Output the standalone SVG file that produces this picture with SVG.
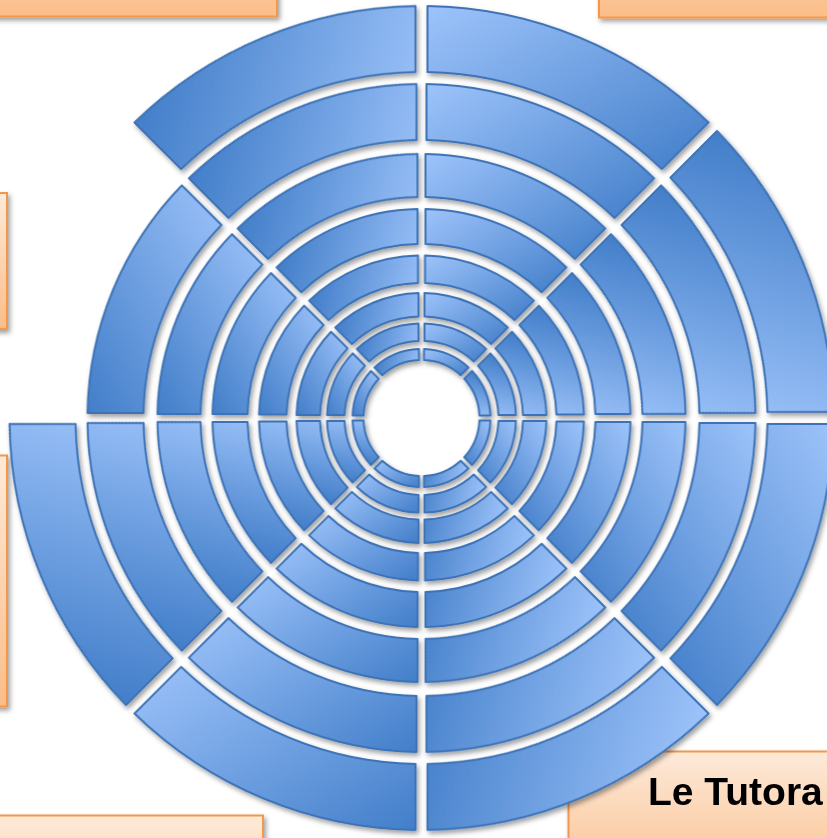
<svg xmlns="http://www.w3.org/2000/svg" width="827" height="838" viewBox="0 0 827 838">
<defs>
<style>
.seg{stroke:#3e73b6;stroke-width:2;stroke-linejoin:round}
.box{stroke:#f79646;stroke-width:2;fill:url(#boxG)}
.lbl{font-family:"Liberation Sans",Arial,sans-serif;font-weight:bold;font-size:39px;fill:#000}
</style>
<linearGradient id="gS" x1="1" y1="0" x2="0" y2="1"><stop offset="0" stop-color="#9dc3fa"/><stop offset="1" stop-color="#427ec9"/></linearGradient>
<linearGradient id="gE" x1="0" y1="1" x2="1" y2="0"><stop offset="0" stop-color="#9dc3fa"/><stop offset="1" stop-color="#427ec9"/></linearGradient>
<linearGradient id="boxG" x1="0" y1="0" x2="0" y2="1"><stop offset="0" stop-color="#fdeada"/><stop offset="1" stop-color="#fbbd88"/></linearGradient>
<filter id="sh" x="-10%" y="-10%" width="120%" height="120%"><feDropShadow dx="2" dy="3" stdDeviation="2.5" flood-color="#000" flood-opacity="0.38"/></filter>
<path id="s1" class="seg" d="M68.95,2.5 A69,69 0 0 1 50.52,46.99 L42.74,39.21 A58,58 0 0 0 57.95,2.5 Z"/>
<path id="s2" class="seg" d="M94.45,3 A94.5,94.5 0 0 1 68.91,64.67 L56.53,52.28 A77,77 0 0 0 76.94,3 Z"/>
<path id="s3" class="seg" d="M124.96,3 A125,125 0 0 1 90.48,86.24 L73.86,69.62 A101.5,101.5 0 0 0 101.46,3 Z"/>
<path id="s4" class="seg" d="M162.46,3.5 A162.5,162.5 0 0 1 117.35,112.4 L97.9,92.95 A135,135 0 0 0 134.95,3.5 Z"/>
<path id="s5" class="seg" d="M208.96,4 A209,209 0 0 1 150.59,144.93 L125.83,120.17 A174,174 0 0 0 173.95,4 Z"/>
<path id="s6" class="seg" d="M263.97,4 A264,264 0 0 1 189.48,183.83 L159.07,153.41 A221,221 0 0 0 220.96,4 Z"/>
<path id="s7" class="seg" d="M333.96,5 A334,334 0 0 1 239.68,232.61 L200.08,193.01 A278,278 0 0 0 277.96,5 Z"/>
<path id="s8" class="seg" d="M411.96,6 A412,412 0 0 1 295.54,287.06 L248.87,240.38 A346,346 0 0 0 345.95,6 Z"/>
</defs>

<g id="boxes" filter="url(#sh)">
<g id="box-top-left"><rect class="box" x="-10" y="-120" width="287" height="136.5"/></g>
<g id="box-top-right"><rect class="box" x="599" y="-120" width="250" height="137.5"/></g>
<g id="box-left-1"><rect class="box" x="-20" y="193" width="27" height="136"/></g>
<g id="box-left-2"><rect class="box" x="-20" y="455.5" width="27" height="251"/></g>
<g id="box-bottom-left"><rect class="box" x="-20" y="815.5" width="283" height="140"/></g>
<g id="box-bottom-right"><rect class="box" x="568.5" y="751.5" width="280" height="140"/><text class="lbl" x="648" y="805">Le Tutora</text></g>
</g>

<g id="rings" transform="translate(421.5,418)" filter="url(#sh)">
<g id="ring8">
<use href="#s8" fill="url(#gS)"/>
<use href="#s8" transform="rotate(45)" fill="url(#gS)"/>
<use href="#s8" transform="rotate(90)" fill="url(#gE)"/>
<use href="#s8" transform="rotate(135)" fill="url(#gE)"/>
<use href="#s8" transform="rotate(225)" fill="url(#gE)"/>
<use href="#s8" transform="rotate(270)" fill="url(#gS)"/>
<use href="#s8" transform="rotate(315)" fill="url(#gE)"/>
</g>
<g id="ring7">
<use href="#s7" fill="url(#gS)"/>
<use href="#s7" transform="rotate(45)" fill="url(#gS)"/>
<use href="#s7" transform="rotate(90)" fill="url(#gE)"/>
<use href="#s7" transform="rotate(135)" fill="url(#gE)"/>
<use href="#s7" transform="rotate(180)" fill="url(#gE)"/>
<use href="#s7" transform="rotate(225)" fill="url(#gE)"/>
<use href="#s7" transform="rotate(270)" fill="url(#gS)"/>
<use href="#s7" transform="rotate(315)" fill="url(#gE)"/>
</g>
<g id="ring6">
<use href="#s6" fill="url(#gS)"/>
<use href="#s6" transform="rotate(45)" fill="url(#gS)"/>
<use href="#s6" transform="rotate(90)" fill="url(#gE)"/>
<use href="#s6" transform="rotate(135)" fill="url(#gE)"/>
<use href="#s6" transform="rotate(180)" fill="url(#gE)"/>
<use href="#s6" transform="rotate(225)" fill="url(#gE)"/>
<use href="#s6" transform="rotate(270)" fill="url(#gS)"/>
<use href="#s6" transform="rotate(315)" fill="url(#gE)"/>
</g>
<g id="ring5">
<use href="#s5" fill="url(#gS)"/>
<use href="#s5" transform="rotate(45)" fill="url(#gS)"/>
<use href="#s5" transform="rotate(90)" fill="url(#gE)"/>
<use href="#s5" transform="rotate(135)" fill="url(#gE)"/>
<use href="#s5" transform="rotate(180)" fill="url(#gE)"/>
<use href="#s5" transform="rotate(225)" fill="url(#gE)"/>
<use href="#s5" transform="rotate(270)" fill="url(#gS)"/>
<use href="#s5" transform="rotate(315)" fill="url(#gE)"/>
</g>
<g id="ring4">
<use href="#s4" fill="url(#gS)"/>
<use href="#s4" transform="rotate(45)" fill="url(#gS)"/>
<use href="#s4" transform="rotate(90)" fill="url(#gE)"/>
<use href="#s4" transform="rotate(135)" fill="url(#gE)"/>
<use href="#s4" transform="rotate(180)" fill="url(#gE)"/>
<use href="#s4" transform="rotate(225)" fill="url(#gE)"/>
<use href="#s4" transform="rotate(270)" fill="url(#gS)"/>
<use href="#s4" transform="rotate(315)" fill="url(#gE)"/>
</g>
<g id="ring3">
<use href="#s3" fill="url(#gS)"/>
<use href="#s3" transform="rotate(45)" fill="url(#gS)"/>
<use href="#s3" transform="rotate(90)" fill="url(#gE)"/>
<use href="#s3" transform="rotate(135)" fill="url(#gE)"/>
<use href="#s3" transform="rotate(180)" fill="url(#gE)"/>
<use href="#s3" transform="rotate(225)" fill="url(#gE)"/>
<use href="#s3" transform="rotate(270)" fill="url(#gS)"/>
<use href="#s3" transform="rotate(315)" fill="url(#gE)"/>
</g>
<g id="ring2">
<use href="#s2" fill="url(#gS)"/>
<use href="#s2" transform="rotate(45)" fill="url(#gS)"/>
<use href="#s2" transform="rotate(90)" fill="url(#gE)"/>
<use href="#s2" transform="rotate(135)" fill="url(#gE)"/>
<use href="#s2" transform="rotate(180)" fill="url(#gE)"/>
<use href="#s2" transform="rotate(225)" fill="url(#gE)"/>
<use href="#s2" transform="rotate(270)" fill="url(#gS)"/>
<use href="#s2" transform="rotate(315)" fill="url(#gE)"/>
</g>
<g id="ring1">
<use href="#s1" fill="url(#gS)"/>
<use href="#s1" transform="rotate(45)" fill="url(#gS)"/>
<use href="#s1" transform="rotate(90)" fill="url(#gE)"/>
<use href="#s1" transform="rotate(135)" fill="url(#gE)"/>
<use href="#s1" transform="rotate(180)" fill="url(#gE)"/>
<use href="#s1" transform="rotate(225)" fill="url(#gE)"/>
<use href="#s1" transform="rotate(270)" fill="url(#gS)"/>
<use href="#s1" transform="rotate(315)" fill="url(#gE)"/>
</g>
</g>
<g id="connectors"/>
</svg>
